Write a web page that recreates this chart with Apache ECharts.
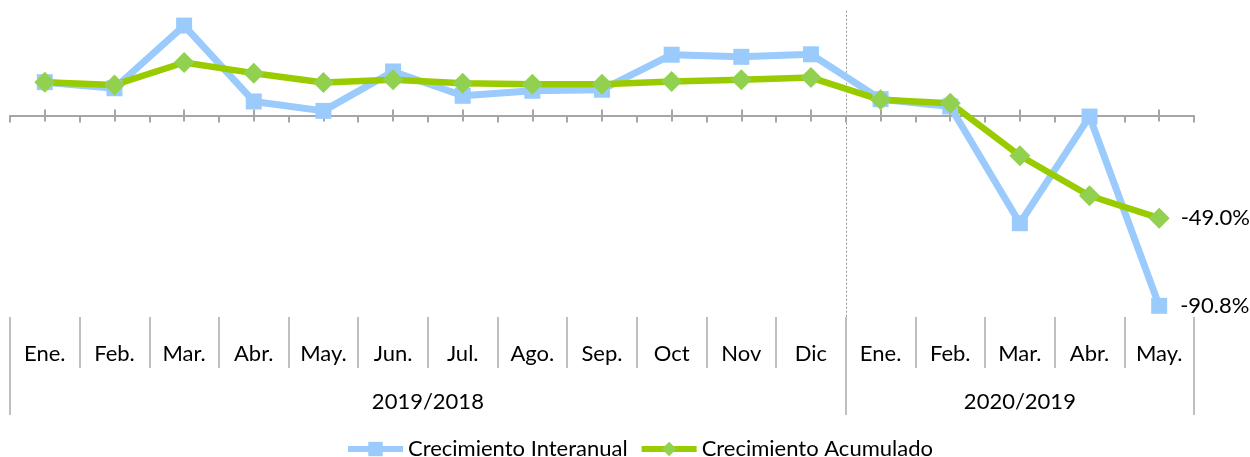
<!DOCTYPE html>
<html>
<head>
<meta charset="UTF-8">
<title>Crecimiento</title>
<style>
html, body { margin: 0; padding: 0; background: #fff; }
#chart { width: 1250px; height: 457px; }
</style>
</head>
<body>
<div id="chart"></div>
<script src="https://cdn.jsdelivr.net/npm/echarts@6/dist/echarts.min.js"></script>
<script>
// datos
var meses = ['Ene.', 'Feb.', 'Mar.', 'Abr.', 'May.', 'Jun.', 'Jul.', 'Ago.', 'Sep.', 'Oct', 'Nov', 'Dic',
             'Ene.', 'Feb.', 'Mar.', 'Abr.', 'May.'];
var grupos = ['2019/2018', '2020/2019'];
var mesesPorGrupo = [12, 5];
var interanual = [15.9, 13.0, 42.9, 6.7, 2.2, 21.0, 9.4, 11.8, 12.3, 29.0, 28.0, 29.2, 7.8, 4.3, -51.4, -0.5, -90.8];
var acumulado = [15.9, 14.6, 25.3, 20.2, 15.7, 17.0, 15.4, 14.9, 14.9, 16.2, 17.0, 18.1, 7.5, 5.9, -19.2, -38.3, -49.0];

var FONT = 'Lato';
var GRIS = '#BFBFBF';
var EJE = '#A6A6A6';

// eje auxiliar en medios pasos: sirve para centrar los grupos y marcar sus limites
var medios = [], centros = {}, cortes = {};
var s = 0;
cortes[0] = true;
grupos.forEach(function (g, i) {
    centros[2 * s + mesesPorGrupo[i]] = g;
    s += mesesPorGrupo[i];
    cortes[2 * s] = true;
});
for (var k = 0; k <= 2 * meses.length; k++) {
    medios.push(centros[k] || '');
}
var ultimo = meses.length - 1;

function etiquetaFinal(p) {
    return p.dataIndex === ultimo ? p.value.toFixed(1) + '%' : '';
}

var chart = echarts.init(document.getElementById('chart'));

var option = {
    animation: false,
    grid: [
        { left: 10, right: 56, top: 10.7, bottom: 131.9 },
        { left: 10, right: 56, top: 317, height: 51 },
        { left: 10, right: 56, top: 317, height: 98 }
    ],
    legend: {
        left: 340,
        top: 433,
        itemWidth: 55,
        itemHeight: 18,
        itemGap: 11,
        lineStyle: { width: 6 },
        textStyle: { fontFamily: FONT, fontSize: 22, color: '#000' },
        data: ['Crecimiento Interanual', 'Crecimiento Acumulado']
    },
    xAxis: [
        {   // linea del cero con marcas entre meses
            type: 'category', gridIndex: 0, data: meses,
            axisLine: { show: true, onZero: true, onZeroAxisIndex: 0, lineStyle: { color: EJE, width: 2 } },
            axisTick: { show: true, length: 7, lineStyle: { color: EJE, width: 2 } },
            axisLabel: { show: false }
        },
        {   // marcas centrales hacia abajo
            type: 'category', gridIndex: 0, data: meses,
            axisLine: { show: false, onZero: true, onZeroAxisIndex: 0 },
            axisTick: { show: true, alignWithLabel: true, length: 6, lineStyle: { color: EJE, width: 2 } },
            axisLabel: { show: false }
        },
        {   // marcas centrales hacia arriba
            type: 'category', gridIndex: 0, data: meses,
            axisLine: { show: false, onZero: true, onZeroAxisIndex: 0 },
            axisTick: { show: true, alignWithLabel: true, inside: true, length: 6, lineStyle: { color: EJE, width: 2 } },
            axisLabel: { show: false }
        },
        {   // linea punteada entre anos
            type: 'category', gridIndex: 0, data: medios, boundaryGap: false,
            axisLine: { show: false },
            axisTick: { show: false },
            axisLabel: { show: false },
            splitLine: {
                show: true,
                interval: function (i) { return cortes[i] && i !== 0 && i !== 2 * meses.length; },
                lineStyle: { color: '#9A9A9A', width: 1, type: [2, 2] }
            }
        },
        {   // fila de meses
            type: 'category', gridIndex: 1, data: meses,
            axisLine: { show: false, onZero: false },
            axisTick: { show: false },
            axisLabel: { inside: true, margin: 14, verticalAlign: 'middle', fontFamily: FONT, fontSize: 22, color: '#000', interval: 0 },
            splitLine: { show: true, lineStyle: { color: GRIS, width: 2 } }
        },
        {   // fila de grupos
            type: 'category', gridIndex: 2, data: medios, boundaryGap: false,
            axisLine: { show: false, onZero: false },
            axisTick: { show: false },
            axisLabel: {
                inside: true, margin: 13, verticalAlign: 'middle', fontFamily: FONT, fontSize: 22, color: '#000',
                interval: function (i) { return !!centros[i]; }
            },
            splitLine: {
                show: true,
                interval: function (i) { return !!cortes[i]; },
                lineStyle: { color: GRIS, width: 2 }
            }
        }
    ],
    yAxis: [
        { type: 'value', gridIndex: 0, min: -100, max: 50, show: false },
        { type: 'value', gridIndex: 1, min: 0, max: 1, show: false },
        { type: 'value', gridIndex: 2, min: 0, max: 1, show: false }
    ],
    series: [
        {
            name: 'Crecimiento Interanual',
            type: 'line',
            xAxisIndex: 0, yAxisIndex: 0,
            data: interanual,
            symbol: 'rect',
            symbolSize: 16,
            itemStyle: { color: '#9BCBFC' },
            lineStyle: { color: '#9BCBFC', width: 7 },
            label: { show: true, position: 'right', distance: 13, formatter: etiquetaFinal,
                     fontFamily: FONT, fontSize: 22, color: '#000' }
        },
        {
            name: 'Crecimiento Acumulado',
            type: 'line',
            xAxisIndex: 0, yAxisIndex: 0,
            data: acumulado,
            symbol: 'diamond',
            symbolSize: 21,
            itemStyle: { color: '#92D050' },
            lineStyle: { color: '#99CC00', width: 6.5 },
            label: { show: true, position: 'right', distance: 11, formatter: etiquetaFinal,
                     fontFamily: FONT, fontSize: 22, color: '#000' }
        }
    ]
};

chart.setOption(option);
</script>
</body>
</html>
